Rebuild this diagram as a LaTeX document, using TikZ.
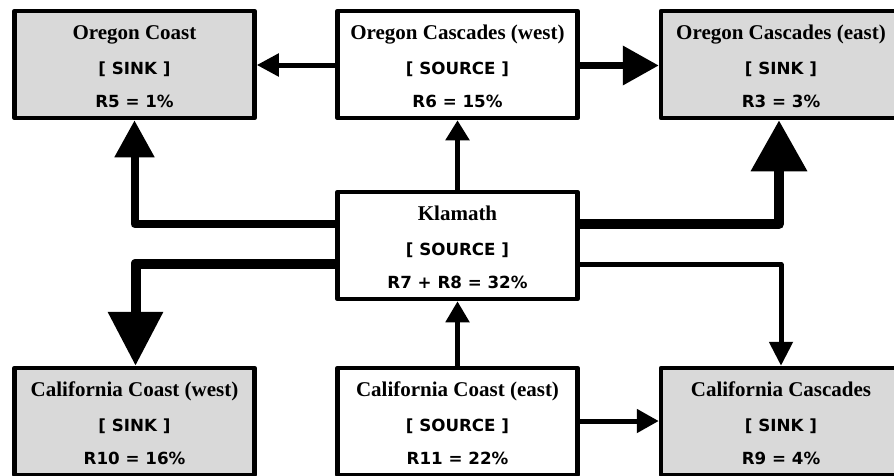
\documentclass[tikz,border=0pt]{standalone}
\usepackage{fontspec}
\setmainfont{Liberation Serif}
\newfontfamily\tagfont{DejaVu Sans}
\usetikzlibrary{arrows.meta}
\definecolor{sinkgray}{RGB}{217,217,217}
\tikzset{
  region/.style={draw=black, line width=4.5pt, line join=round, minimum width=240pt, minimum height=107pt, inner sep=0pt, fill=white},
  sinkbox/.style={region, fill=sinkgray},
  ttl/.style={anchor=base, inner sep=0pt, font=\fontsize{21}{21}\selectfont\bfseries},
  tg/.style={anchor=base, inner sep=0pt, font=\tagfont\fontsize{16.7}{16.7}\selectfont\bfseries},
  flow/.style n args={3}{draw=black, line join=round, line width=#1pt, -{Triangle[length=#2pt,width=#3pt]}}
}
\newcommand\regionbox[7]{%
  \node[#4] (#1) at (#2,#3+53.5) {};
  \node[ttl] (#1t) at (#2,#3+28) {#5};
  \node[tg] (#1g) at (#2,#3+63) {#6};
  \node[tg] (#1v) at (#2,#3+96) {#7};
}
\begin{document}
\begin{tikzpicture}[x=1pt,y=-1pt]
\useasboundingbox (0,0) rectangle (894,475);
\clip (0,0) rectangle (894,475);
\regionbox{oc}{134.5}{11}{sinkbox}{Oregon Coast}{[ SINK ]}{R5 = 1\%}
\regionbox{ocw}{457.5}{11}{region}{Oregon Cascades (west)}{[ SOURCE ]}{R6 = 15\%}
\regionbox{oce}{781}{11}{sinkbox}{Oregon Cascades (east)}{[ SINK ]}{R3 = 3\%}
\regionbox{kl}{457.5}{192}{region}{Klamath}{[ SOURCE ]}{R7 + R8 = 32\%}
\regionbox{ccw}{134.5}{368}{sinkbox}{California Coast (west)}{[ SINK ]}{R10 = 16\%}
\regionbox{cce}{457.5}{368}{region}{California Coast (east)}{[ SOURCE ]}{R11 = 22\%}
\regionbox{cc}{781}{368}{sinkbox}{California Cascades}{[ SINK ]}{R9 = 4\%}

\draw[flow={5}{22}{22}] (ocw.west |- 0,65) -- (oc.east |- 0,65);
\draw[flow={7}{36}{38}] (ocw.east |- 0,65.5) -- (oce.west |- 0,65.5);
\draw[flow={8}{37}{38}] (kl.west |- 0,224) -| (oc.south);
\draw[flow={5}{20}{23}] (kl.north) -- (ocw.south);
\draw[flow={10}{51}{54}] (kl.east |- 0,224) -| ([xshift=-2pt]oce.south);
\draw[flow={10}{54}{53}] (kl.west |- 0,263.5) -| ([xshift=1pt]ccw.north);
\draw[flow={5}{24}{23}] (kl.east |- 0,264.5) -| (cc.north);
\draw[flow={5}{21}{23}] (cce.north) -- (kl.south);
\draw[flow={5}{22}{23}] (cce.east |- 0,421) -- (cc.west |- 0,421);
\end{tikzpicture}
\end{document}
